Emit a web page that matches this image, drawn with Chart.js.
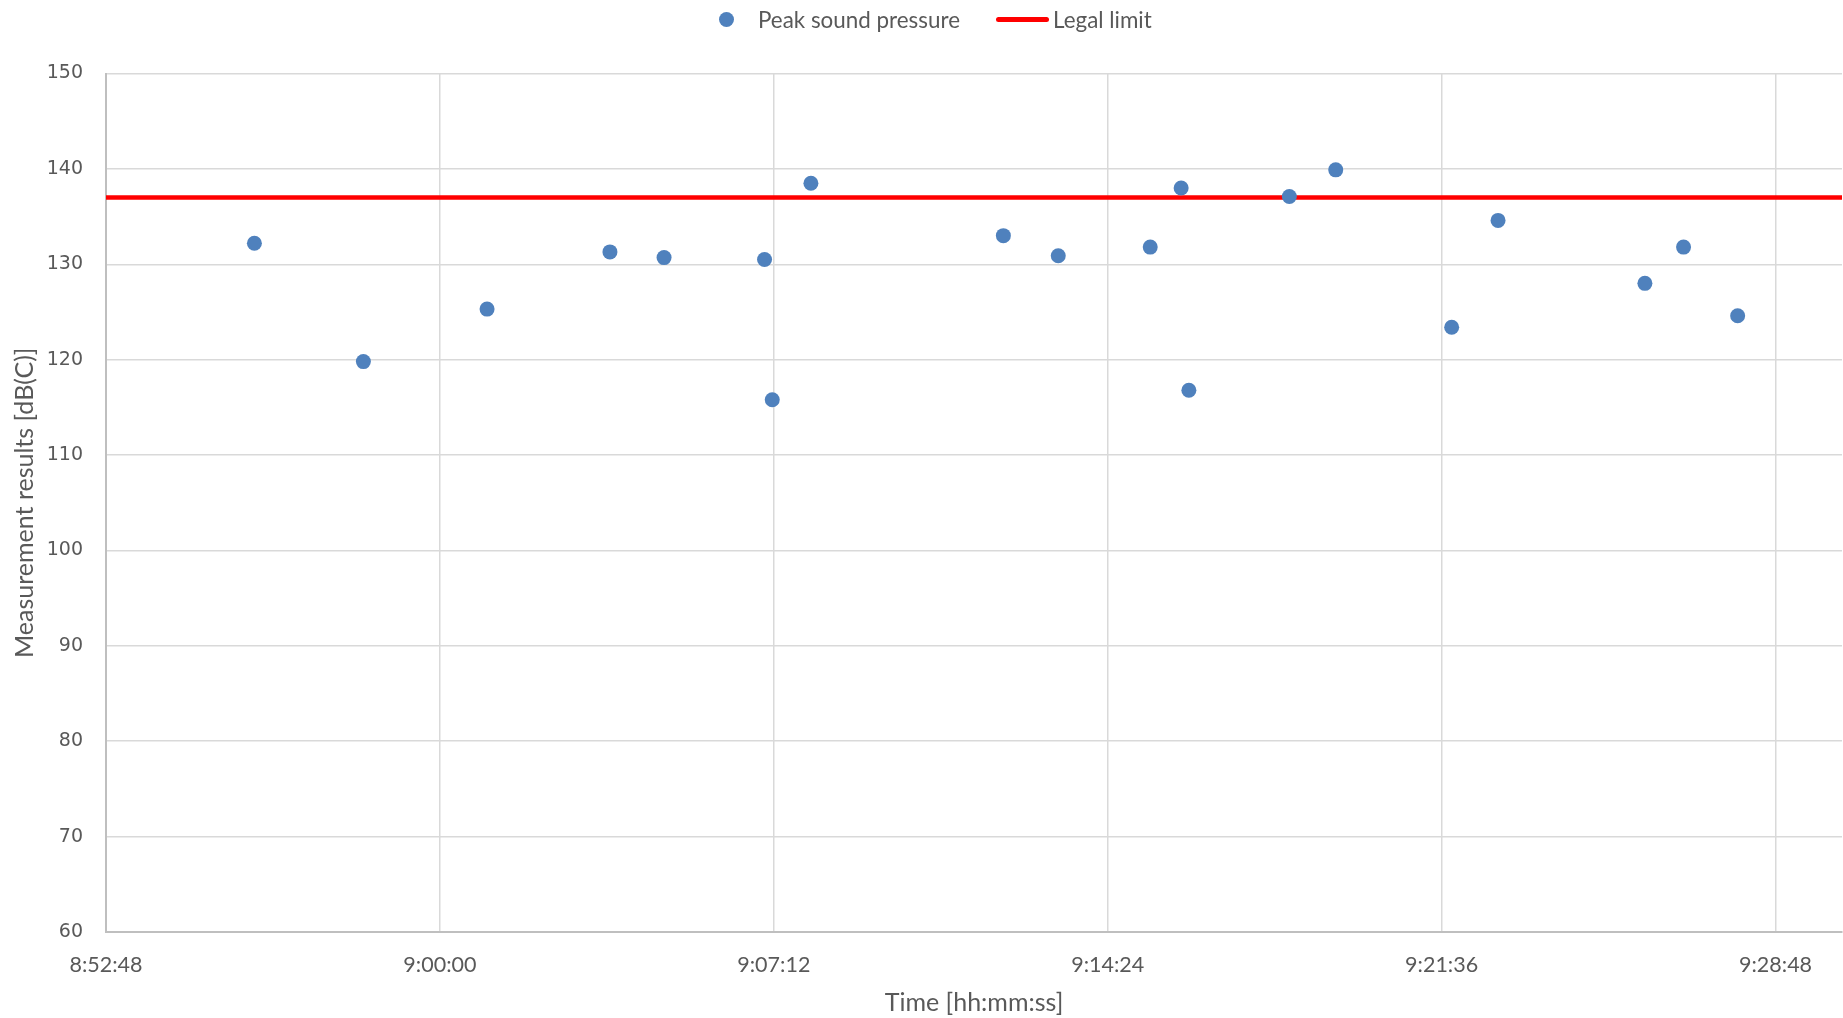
<!DOCTYPE html>
<html>
<head>
<meta charset="utf-8">
<script src="https://cdn.jsdelivr.net/npm/chart.js@4.4.1/dist/chart.umd.min.js"></script>
<style>
  html, body { margin: 0; background: #fff; overflow: hidden; }
  #wrap { position: relative; width: 1843px; height: 1018px; }
  #grafico { display: block; }
  #legenda {
    position: absolute; left: 719px; top: 4px; height: 30px;
    display: flex; align-items: center;
    font-family: Lato, sans-serif; font-size: 22.4px; color: #595959;
  }
  .dot { width: 15px; height: 15px; border-radius: 50%; background: #4F81BD; margin-right: 24px; }
  .linha { width: 53px; height: 5px; border-radius: 3px; background: #FF0000; margin-left: 36px; margin-right: 4px; }
</style>
</head>
<body>
<div id="wrap">
  <div id="legenda">
    <span class="dot"></span><span>Peak sound pressure</span>
    <span class="linha"></span><span>Legal limit</span>
  </div>
  <canvas id="grafico" width="1843" height="1018"></canvas>
</div>
<script>
// horarios das medicoes (hh:mm:ss) e picos medidos em dB(C)
const horarios = ['8:56:00', '8:58:21', '9:01:01', '9:03:40', '9:04:50', '9:07:00', '9:07:10', '9:08:00',
                  '9:12:09', '9:13:20', '9:15:19', '9:15:59', '9:16:09', '9:18:19', '9:19:19',
                  '9:21:49', '9:22:49', '9:25:59', '9:26:49', '9:27:59'];
const picos = [132.2, 119.8, 125.3, 131.3, 130.7, 130.5, 115.8, 138.5,
               133.0, 130.9, 131.8, 138.0, 116.8, 137.1, 139.9,
               123.4, 134.6, 128.0, 131.8, 124.6];
const limiteLegal = 137;
const ticksX = ['8:52:48', '9:00:00', '9:07:12', '9:14:24', '9:21:36', '9:28:48'];
const inicioX = '8:52:48';
const fimX = '9:30:14';
const ticksY = [60, 70, 80, 90, 100, 110, 120, 130, 140, 150];

function paraSegundos(h) {
    const [hh, mm, ss] = h.split(':').map(Number);
    return hh * 3600 + mm * 60 + ss;
}
function paraHora(s) {
    const hh = Math.floor(s / 3600);
    const mm = Math.floor((s % 3600) / 60);
    const ss = Math.round(s % 60);
    return `${hh}:${String(mm).padStart(2, '0')}:${String(ss).padStart(2, '0')}`;
}

const xMin = paraSegundos(inicioX);
const xMax = paraSegundos(fimX);
const cinza = '#595959';

new Chart(document.getElementById('grafico'), {
    type: 'scatter',
    data: {
        datasets: [
            {
                label: 'Peak sound pressure',
                data: horarios.map((h, i) => ({ x: paraSegundos(h), y: picos[i] })),
                backgroundColor: '#4F81BD',
                borderWidth: 0,
                pointRadius: 7.5,
                pointHoverRadius: 7.5
            },
            {
                label: 'Legal limit',
                type: 'line',
                data: [{ x: xMin, y: limiteLegal }, { x: xMax, y: limiteLegal }],
                borderColor: '#FF0000',
                borderWidth: 4.5,
                pointRadius: 0
            }
        ]
    },
    options: {
        responsive: false,
        animation: false,
        // sem autoPadding o grafico vai ate a borda direita, como no original
        layout: { autoPadding: false, padding: { top: 73.5, right: 1, left: 0, bottom: 0 } },
        plugins: { legend: { display: false }, tooltip: { enabled: false } },
        scales: {
            x: {
                type: 'linear',
                min: xMin,
                max: xMax,
                afterFit: (s) => { s.height = 86; s.paddingLeft = 0; s.paddingRight = 0; },
                afterBuildTicks: (s) => { s.ticks = ticksX.map(t => ({ value: paraSegundos(t) })); },
                grid: { color: '#D9D9D9', lineWidth: 1.5, drawTicks: false },
                border: { color: '#BFBFBF', width: 2 },
                ticks: {
                    padding: 20,
                    color: cinza,
                    font: { family: 'Lato', size: 21.5 },
                    callback: (v) => paraHora(v)
                },
                title: {
                    display: true,
                    text: 'Time [hh:mm:ss]',
                    color: cinza,
                    font: { family: 'Lato', size: 25 },
                    padding: { top: 0, bottom: 0.5 }
                }
            },
            y: {
                min: ticksY[0],
                max: ticksY[ticksY.length - 1],
                afterFit: (s) => { s.width = 106; s.paddingTop = 0; s.paddingBottom = 0; },
                afterBuildTicks: (s) => { s.ticks = ticksY.map(v => ({ value: v })); },
                grid: { color: '#D9D9D9', lineWidth: 1.5, drawTicks: false },
                border: { color: '#BFBFBF', width: 2 },
                ticks: {
                    padding: 23,
                    color: cinza,
                    font: { family: 'DejaVu Sans', size: 19 }
                },
                title: {
                    display: true,
                    text: 'Measurement results [dB(C)]',
                    color: cinza,
                    font: { family: 'Lato', size: 25 },
                    padding: { top: 9.7, bottom: 0 }
                }
            }
        }
    }
});
</script>
</body>
</html>
